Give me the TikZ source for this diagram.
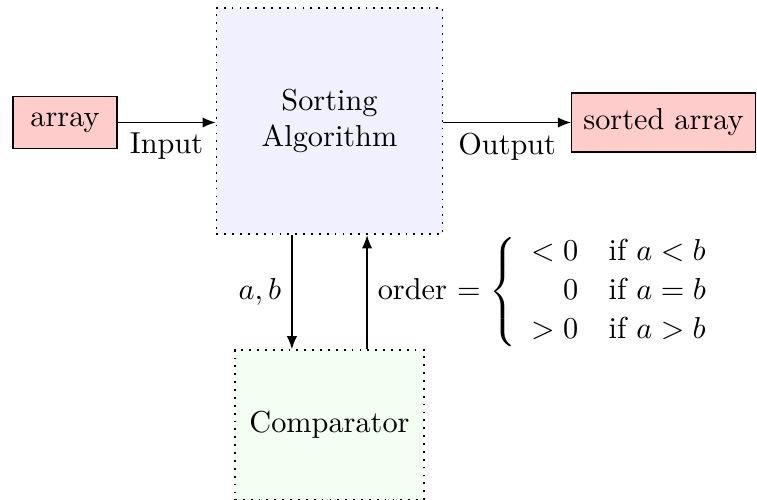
\documentclass[tikz,border=0pt]{standalone}
\usepackage{amsmath}
\usetikzlibrary{arrows.meta}
\begin{document}
\begin{tikzpicture}[x=0.33pt,y=-0.33pt,
  iobox/.style={draw, fill=red!20, inner sep=0pt},
  procbox/.style={draw, dotted, line width=0.6pt, inner sep=0pt, align=center},
  arr/.style={-{Latex[length=4.3pt,width=3.4pt]}}]
\useasboundingbox (0,0) rectangle (757,499);
\node[iobox, minimum width=34.3pt, minimum height=17.2pt] (in) at (65,122.5) {array};
\node[procbox, fill=blue!6, minimum width=74.6pt, minimum height=74.8pt] (sort) at (329.5,121) {Sorting\\Algorithm};
\node[iobox, minimum width=60.7pt, minimum height=19.5pt] (out) at (663.5,122.5) {sorted array};
\node[procbox, fill=green!5, minimum width=62.4pt, minimum height=49.5pt] (cmp) at (329.5,425) {Comparator};
\draw[arr] (in.east) -- node[below] {Input} (in.east -| sort.west);
\draw[arr] (out.west -| sort.east) -- node[below] {Output} (out.west);
\draw[arr] ([xshift=-12.4pt]sort.south) -- node[left] {$a,b$} ([xshift=-12.4pt]cmp.north);
\draw[arr] ([xshift=12.4pt]cmp.north) -- node[right] {order $=\left\{\begin{array}{rl} <0 & \text{if } a<b\\[1pt] 0 & \text{if } a=b\\[1pt] >0 & \text{if } a>b\end{array}\right.$} ([xshift=12.4pt]sort.south);
\end{tikzpicture}
\end{document}
